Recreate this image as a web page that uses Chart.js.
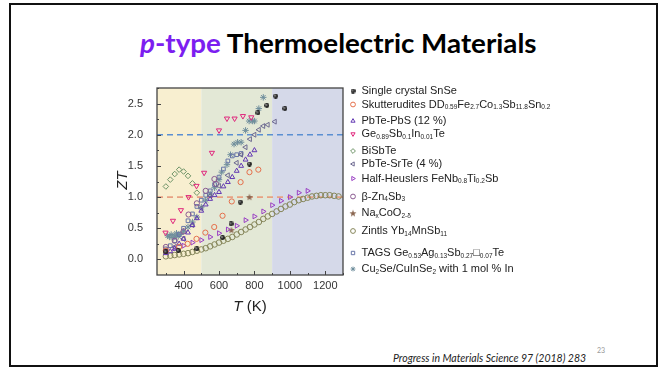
<!DOCTYPE html>
<html>
<head>
<meta charset="utf-8">
<script src="https://cdn.jsdelivr.net/npm/chart.js@4.4.1/dist/chart.umd.min.js"></script>
<style>
  body { margin: 0; width: 666px; height: 367px; overflow: hidden; background: #fff; position: relative; }
  #frame { position: absolute; left: 9px; top: 3px; width: 649px; height: 364px; border: 2.5px solid #111; box-sizing: border-box; }
  #title { position: absolute; left: 140px; top: 26px; white-space: nowrap; font-family: Lato, 'Open Sans', sans-serif; font-weight: bold; font-size: 27px; color: #000; transform-origin: left top; }
  #title .p { color: #7c1ef0; }
  #source { position: absolute; left: 393px; top: 352px; font-family: Lato, sans-serif; font-style: italic; font-size: 10.5px; color: #222; white-space: nowrap; }
  #pageno { position: absolute; left: 597px; top: 346px; font-family: Lato, sans-serif; font-size: 7px; color: #999; }
  canvas { position: absolute; left: 0; top: 0; }
</style>
</head>
<body>
<div id="frame"></div>
<div id="title"><span class="p"><i>p</i>-type</span> Thermoelectric Materials</div>
<div id="pageno">23</div>
<div id="source">Progress in Materials Science 97 (2018) 283</div>
<canvas id="zt" width="666" height="367"></canvas>
<script>
// axis ticks and temperature regions
const xTickValues = [400, 600, 800, 1000, 1200];
const yTickValues = [0, 0.5, 1, 1.5, 2, 2.5];
const regionEdges = [250, 500, 900, 1300];
const regionColors = ['#f8efd0', '#e3e8d6', '#d5d9e9'];
const guideLevels = [2.0, 1.0];

// [T (K), ZT]
const snSe = [[300,0.12],[370,0.14],[475,0.17],[620,0.35],[668,0.57],[720,0.92],[772,1.53],[820,2.35],[870,2.47],[920,2.62],[972,2.42]];
const skutterudite = [[300,0.14],[375,0.2],[423,0.25],[473,0.33],[523,0.43],[573,0.52],[620,0.7],[672,0.93],[722,1.24],[772,1.4],[822,1.44]];
const pbtePbs = [[300,0.1],[325,0.13],[350,0.17],[375,0.25],[400,0.33],[425,0.43],[450,0.55],[475,0.66],[500,0.78],[525,0.88],[550,0.97],[575,1.03],[600,1.08],[625,1.17],[650,1.24],[675,1.32],[700,1.42],[725,1.5],[750,1.6],[775,1.68],[800,1.75]];
const geSbInTe = [[298,0.43],[340,0.62],[385,0.79],[428,1.0],[473,1.18],[516,1.39],[560,1.71],[600,2.07],[645,2.26],[688,2.26],[735,2.3],[782,2.28]];
const biSbTe = [[300,1.17],[325,1.28],[350,1.37],[375,1.44],[400,1.41],[425,1.34],[450,1.22],[475,1.07]];
const pbteSrte = [[300,0.15],[350,0.2],[400,0.33],[450,0.55],[500,0.82],[550,1.02],[600,1.18],[650,1.35],[700,1.55],[725,1.68],[750,1.8],[775,1.93],[800,2.0],[825,2.08],[850,2.14],[875,2.16],[915,2.21]];
const halfHeusler = [[300,0.13],[350,0.18],[400,0.22],[450,0.27],[500,0.31],[550,0.36],[600,0.42],[650,0.48],[700,0.54],[750,0.63],[800,0.69],[850,0.77],[900,0.87],[950,0.94],[1000,1.0],[1050,1.07],[1100,1.1]];
const zn4sb3 = [[300,0.2],[350,0.3],[400,0.45],[428,0.72],[475,0.9],[525,1.1],[574,1.29],[583,1.21]];
const naxCoO2 = [[670,0.47],[772,1.0]];
const zintl = [[300,0.05],[325,0.06],[350,0.07],[375,0.08],[400,0.09],[425,0.1],[450,0.12],[475,0.14],[500,0.16],[525,0.18],[550,0.21],[575,0.24],[600,0.27],[625,0.3],[650,0.33],[675,0.36],[700,0.4],[725,0.44],[750,0.48],[775,0.52],[800,0.56],[825,0.6],[850,0.65],[875,0.69],[900,0.73],[925,0.77],[950,0.81],[975,0.85],[1000,0.88],[1025,0.92],[1050,0.95],[1075,0.97],[1100,0.99],[1125,1.01],[1150,1.02],[1175,1.03],[1200,1.03],[1225,1.03],[1250,1.02],[1275,1.01]];
const tags = [[300,0.17],[325,0.22],[350,0.3],[375,0.4],[400,0.5],[425,0.62],[450,0.73],[475,0.85],[500,0.95],[525,1.03],[550,1.1],[575,1.2],[600,1.32],[625,1.45],[650,1.58],[675,1.66],[700,1.68],[725,1.7]];
const cu2se = [[310,0.38],[320,0.36],[330,0.4],[340,0.35],[350,0.38],[360,0.42],[370,0.37],[380,0.4],[400,0.45],[425,0.52],[450,0.6],[475,0.68],[500,0.84],[525,0.95],[550,1.05],[575,1.15],[600,1.28],[615,1.4],[645,1.52],[665,1.68],[685,1.85],[705,1.88],[725,1.88],[750,2.07],[770,2.22],[790,2.22],[800,2.22],[825,2.42],[850,2.6]];

const seriesNames = [
  'Single crystal SnSe',
  'Skutterudites DD_{0.59}Fe_{2.7}Co_{1.3}Sb_{11.8}Sn_{0.2}',
  'PbTe-PbS (12 %)',
  'Ge_{0.89}Sb_{0.1}In_{0.01}Te',
  'BiSbTe',
  'PbTe-SrTe (4 %)',
  'Half-Heuslers FeNb_{0.8}Ti_{0.2}Sb',
  'β-Zn_{4}Sb_{3}',
  'Na_{x}CoO_{2-δ}',
  'Zintls Yb_{14}MnSb_{11}',
  'TAGS Ge_{0.53}Ag_{0.13}Sb_{0.27}□_{0.07}Te',
  'Cu_{2}Se/CuInSe_{2} with 1 mol % In'
];
const legendRows = [91, 104.5, 121, 134, 151, 164, 178.5, 196.5, 213.3, 231, 253, 269];

function sphere() {
  const c = document.createElement('canvas');
  c.width = 5; c.height = 5;
  const g = c.getContext('2d');
  const grd = g.createRadialGradient(1.8, 1.8, 0.2, 2.5, 2.5, 2.5);
  grd.addColorStop(0, '#aaa');
  grd.addColorStop(0.45, '#333');
  grd.addColorStop(1, '#000');
  g.fillStyle = grd;
  g.beginPath(); g.arc(2.5, 2.5, 2.4, 0, Math.PI * 2); g.fill();
  return c;
}

function filledStar(color) {
  const c = document.createElement('canvas');
  c.width = 8; c.height = 8;
  const g = c.getContext('2d');
  g.fillStyle = color;
  g.beginPath();
  for (let i = 0; i < 10; i++) {
    const r = i % 2 ? 1.5 : 3.7;
    const a = -Math.PI / 2 + i * Math.PI / 5;
    g.lineTo(4 + r * Math.cos(a), 4.2 + r * Math.sin(a));
  }
  g.closePath(); g.fill();
  return c;
}

function pts(arr) { return arr.map(p => ({ x: p[0], y: p[1] })); }

function series(i, data, color, style, rot, radius) {
  return {
    label: seriesNames[i], data: pts(data), showLine: false,
    pointStyle: style, rotation: rot || 0, pointRadius: radius || 2.6,
    borderColor: color, backgroundColor: 'rgba(255,255,255,0)', pointBorderWidth: 1, order: 1
  };
}

const datasets = [
  series(0, snSe, '#111', sphere(), 0, 3),
  series(1, skutterudite, '#e5704c', 'circle'),
  series(2, pbtePbs, '#6339b3', 'triangle', 0, 2.8),
  series(3, geSbInTe, '#e0267c', 'triangle', 180, 3),
  series(4, biSbTe, '#6f9468', 'rectRot', 0, 2.8),
  series(5, pbteSrte, '#6c6890', 'triangle', -90, 2.8),
  series(6, halfHeusler, '#9a3fc4', 'triangle', 90, 2.8),
  series(7, zn4sb3, '#8a5a90', 'circle', 0, 2.6),
  series(8, naxCoO2, '#8a6650', filledStar('#8a6650'), 0, 4),
  series(9, zintl, '#86865a', 'circle', 0, 2.8),
  series(10, tags, '#6876a8', 'rect', 0, 2.6),
  series(11, cu2se, '#6f8e9c', 'star', 0, 3.2)
];
// dashed guide lines at ZT = 2 and ZT = 1
const guideColors = ['#5b8fd2', '#e8a183'];
guideLevels.forEach((lvl, i) => {
  datasets.push({
    label: 'guide' + i, data: [{ x: regionEdges[0], y: lvl }, { x: regionEdges[3], y: lvl }],
    showLine: true, borderColor: guideColors[i], borderWidth: 1.6, borderDash: [6, 4],
    pointRadius: 0, order: 5, isGuide: true
  });
});

const tickFont = { family: "'Liberation Sans', Arial, sans-serif", size: 11 };

const bands = {
  id: 'bands',
  beforeDatasetsDraw(chart) {
    const { ctx, chartArea: a, scales: { x } } = chart;
    ctx.save();
    for (let i = 0; i < regionColors.length; i++) {
      const x0 = Math.max(a.left, x.getPixelForValue(regionEdges[i]));
      const x1 = Math.min(a.right, x.getPixelForValue(regionEdges[i + 1]));
      ctx.fillStyle = regionColors[i];
      ctx.fillRect(x0, a.top, x1 - x0, a.bottom - a.top);
    }
    ctx.restore();
  },
  afterDatasetsDraw(chart) {
    const { ctx, chartArea: a, scales: { x, y } } = chart;
    ctx.save();
    ctx.strokeStyle = '#444';
    ctx.lineWidth = 1.3;
    ctx.strokeRect(a.left, a.top, a.right - a.left, a.bottom - a.top);
    ctx.lineWidth = 1;
    // inward ticks, major and minor
    for (let v = 0; v <= 2.75; v += 0.25) {
      const py = Math.round(y.getPixelForValue(v)) + 0.5;
      const len = yTickValues.includes(v) ? 4 : 2;
      ctx.beginPath(); ctx.moveTo(a.left, py); ctx.lineTo(a.left + len, py); ctx.stroke();
    }
    for (let v = 300; v <= 1300; v += 100) {
      const px = Math.round(x.getPixelForValue(v)) + 0.5;
      const len = xTickValues.includes(v) ? 4 : 2;
      ctx.beginPath(); ctx.moveTo(px, a.bottom); ctx.lineTo(px, a.bottom - len); ctx.stroke();
    }
    // axis titles
    ctx.fillStyle = '#222';
    ctx.font = "italic 15px 'Liberation Sans', Arial, sans-serif";
    ctx.textAlign = 'center'; ctx.textBaseline = 'middle';
    ctx.translate(123, (a.top + a.bottom) / 2 - 1);
    ctx.rotate(-Math.PI / 2);
    ctx.fillText('ZT', 0, 0);
    ctx.setTransform(1, 0, 0, 1, 0, 0);
    const tx = (a.left + a.right) / 2;
    const rest = ' (K)';
    ctx.font = "15px 'Liberation Sans', Arial, sans-serif";
    const wRest = ctx.measureText(rest).width;
    ctx.font = "italic 15px 'Liberation Sans', Arial, sans-serif";
    const wT = ctx.measureText('T').width;
    const sx = tx - (wT + wRest) / 2;
    ctx.textAlign = 'left';
    ctx.fillText('T', sx, 307);
    ctx.font = "15px 'Liberation Sans', Arial, sans-serif";
    ctx.fillText(rest, sx + wT, 307);
    ctx.restore();
  }
};

function drawRich(ctx, text, x, y) {
  const parts = text.split(/(_\{[^}]*\})/).filter(s => s.length);
  for (const p of parts) {
    if (p.startsWith('_{')) {
      const s = p.slice(2, -1);
      ctx.font = "6.5px 'Liberation Sans', Arial, sans-serif";
      ctx.fillText(s, x, y + 3);
      x += ctx.measureText(s).width;
    } else {
      ctx.font = "11px 'Liberation Sans', Arial, sans-serif";
      ctx.fillText(p, x, y);
      x += ctx.measureText(p).width;
    }
  }
}

const richLegend = {
  id: 'richLegend',
  afterDraw(chart) {
    const ctx = chart.ctx;
    ctx.save();
    chart.data.datasets.forEach((ds, i) => {
      if (ds.isGuide) return;
      const yy = legendRows[i];
      ctx.strokeStyle = ds.borderColor;
      ctx.fillStyle = ds.backgroundColor;
      ctx.lineWidth = 1;
      Chart.helpers.drawPoint(ctx, {
        pointStyle: ds.pointStyle, rotation: ds.rotation,
        radius: Math.min(ds.pointRadius, 2.4), borderWidth: 1
      }, 353, yy);
      ctx.fillStyle = '#222';
      ctx.textBaseline = 'middle';
      ctx.textAlign = 'left';
      drawRich(ctx, ds.label, 361.5, yy);
    });
    ctx.restore();
  }
};

new Chart(document.getElementById('zt'), {
  type: 'scatter',
  data: { datasets },
  options: {
    responsive: false,
    animation: false,
    layout: { padding: { left: 98, right: 323, top: 88, bottom: 62 } },
    plugins: { legend: { display: false }, tooltip: { enabled: false } },
    scales: {
      x: {
        type: 'linear', min: regionEdges[0], max: regionEdges[3],
        afterBuildTicks: s => { s.ticks = xTickValues.map(v => ({ value: v })); },
        afterFit: s => { s.height = 30; },
        grid: { display: false, drawTicks: false },
        border: { display: false },
        ticks: { font: tickFont, color: '#333', padding: 4, callback: v => String(v) }
      },
      y: {
        type: 'linear', min: -0.25, max: 2.75,
        afterBuildTicks: s => { s.ticks = yTickValues.map(v => ({ value: v })); },
        afterFit: s => { s.width = 59; },
        grid: { display: false, drawTicks: false },
        border: { display: false },
        ticks: { font: tickFont, color: '#333', padding: 14, callback: v => v.toFixed(1) }
      }
    }
  },
  plugins: [bands, richLegend]
});

// fit the title to the width it has on the slide
const t = document.getElementById('title');
t.style.transform = 'scaleX(' + (397 / t.offsetWidth) + ')';
</script>
</body>
</html>
